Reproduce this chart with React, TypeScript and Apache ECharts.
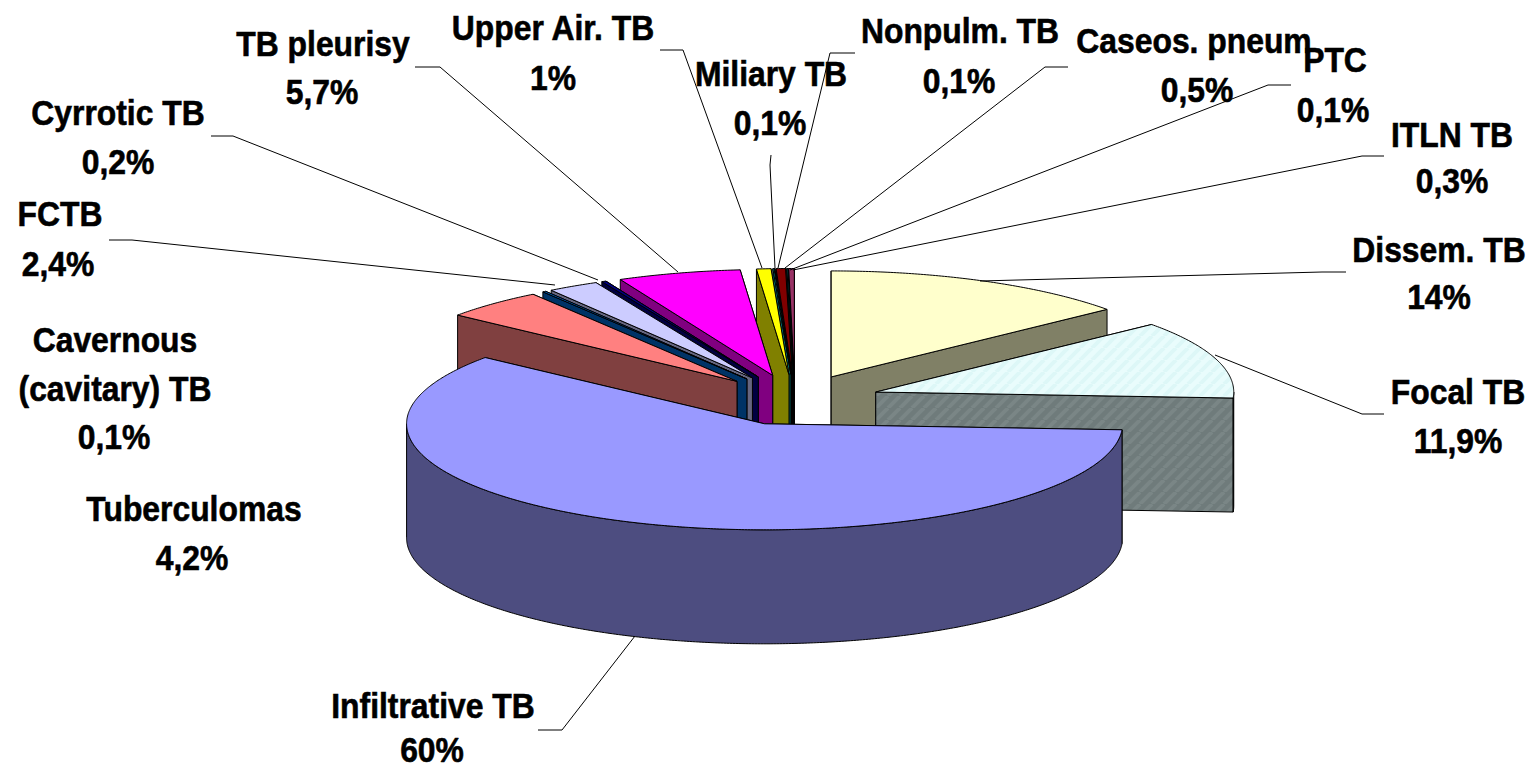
import React, { useEffect, useRef } from "react";
import * as echarts from "echarts";

const categories = ["Dissem. TB","Focal TB","Infiltrative TB","Tuberculomas","Cavernous (cavitary) TB","FCTB","Cyrrotic TB","TB pleurisy","Upper Air. TB","Miliary TB","Nonpulm. TB","Caseos. pneum","PTC","ITLN TB"];
const valueLabels = ["14%","11,9%","60%","4,2%","0,1%","2,4%","0,2%","5,7%","1%","0,1%","0,1%","0,5%","0,1%","0,3%"];
// slice shares as measured on the picture
const sliceShares = [14,11.9,59.85,4.6,0.15,2.3,0.2,5.55,0.65,0.05,0.03,0.42,0.05,0.25];
const sliceColors = ["#FFFFCC","#CCFFFF","#9999FF","#FF8080","#0066CC","#CCCCFF","#000080","#FF00FF","#FFFF00","#00FFFF","#800080","#800000","#008080","#993366"];
const paintOrder = [13,12,11,10,9,8,7,6,5,4,3,0,1,2];

// category text lines, then centre x of each line and centre y of each line
const labelLines: string[][] = [["Dissem. TB"],["Focal TB"],["Infiltrative TB"],["Tuberculomas"],["Cavernous","(cavitary) TB"],["FCTB"],["Cyrrotic TB"],["TB pleurisy"],["Upper Air. TB"],["Miliary TB"],["Nonpulm. TB"],["Caseos. pneum"],["PTC"],["ITLN TB"]];
const labelXs: number[][] = [[1439,1439],[1458,1458],[433,432],[194,192],[115,115,114],[60,58],[118,118],[323,322],[553,553],[771,770],[960,959],[1194,1197],[1335,1333],[1452,1452]];
const labelYs: number[][] = [[250,297],[392,441],[706,750],[509,558],[340,389,437],[214,264],[113,162],[44,92],[28,78],[74,123],[31,81],[41,90],[60,110],[135,181]];
const leaderLines: number[][][] = [
  [[980,281],[1322,272],[1346,272]],
  [[1215,355],[1362,414],[1384,414]],
  [[793,270],[1362,156],[1384,156]],
  [[790,270],[1268,85],[1291,85]],
  [[785,268],[1045,67],[1068,67]],
  [[778,268],[830,53],[855,53]],
  [[775,268],[770,165],[771,155]],
  [[762,268],[683,50],[660,50]],
  [[678,272],[440,67],[415,67]],
  [[598,280],[233,136],[211,136]],
  [[555,285],[132,240],[109,240]],
  [[635,636],[562,730],[538,730]],
];

const CX = 795, CY = 400, EX = 85, EY = 25.5, RX = 358, RY = 106, DEPTH = 114;
const FONT = 35, SQUEEZE = 0.91;

function darken(hex: string) {
  const n = parseInt(hex.slice(1), 16);
  const f = (v: number) => Math.round(v * 0.5);
  return `rgb(${f((n >> 16) & 255)},${f((n >> 8) & 255)},${f(n & 255)})`;
}

function stripePattern(a: string, b: string) {
  const size = 12;
  const c = document.createElement("canvas");
  c.width = size; c.height = size;
  const g = c.getContext("2d")!;
  g.fillStyle = a; g.fillRect(0, 0, size, size);
  g.strokeStyle = b; g.lineWidth = 4;
  for (let i = -size; i <= size * 2; i += size) {
    g.beginPath(); g.moveTo(i, size); g.lineTo(i + size, 0); g.stroke();
  }
  return { image: c, repeat: "repeat", imageWidth: size, imageHeight: size };
}

export default function App() {
  const ref = useRef<HTMLDivElement>(null);
  useEffect(() => {
    document.body.style.margin = "0";
    document.body.style.background = "#fff";
    const chart = echarts.init(ref.current!, undefined, { renderer: "svg" });
    const total = sliceShares.reduce((s, v) => s + v, 0);
    const angles: [number, number][] = [];
    let cum = 0;
    sliceShares.forEach((v) => {
      const a0 = (cum / total) * 360;
      cum += v;
      angles.push([a0, (cum / total) * 360]);
    });
    const pt = (ax: number, ay: number, deg: number, dy = 0) => {
      const r = (deg * Math.PI) / 180;
      return [ax + RX * Math.sin(r), ay - RY * Math.cos(r) + dy];
    };
    const arc = (ax: number, ay: number, d0: number, d1: number, dy = 0) => {
      const out: number[][] = [];
      const n = Math.max(1, Math.ceil((d1 - d0) / 0.5));
      for (let i = 0; i <= n; i++) out.push(pt(ax, ay, d0 + ((d1 - d0) * i) / n, dy));
      return out;
    };
    const focalTop = stripePattern("#E9FCFC", "#DDF7F7");
    const focalSide = stripePattern("#6F7B7B", "#7A8686");

    const renderItem = (params: any) => {
      const idx = paintOrder[params.dataIndex];
      const [a0, a1] = angles[idx];
      const mid = ((a0 + a1) / 2) * Math.PI / 180;
      const ax = CX + EX * Math.sin(mid);
      const ay = CY - EY * Math.cos(mid);
      const color = sliceColors[idx];
      const isFocal = idx === 1;
      const topFill: any = isFocal ? focalTop : color;
      const sideFill: any = isFocal ? focalSide : darken(color);
      const style = (fill: any) => ({ fill, stroke: "#000", lineWidth: 1, lineJoin: "round" });
      const quad = (deg: number) => {
        const p = pt(ax, ay, deg);
        return { type: "polygon", shape: { points: [[ax, ay], p, [p[0], p[1] + DEPTH], [ax, ay + DEPTH]] }, style: style(sideFill) };
      };
      const children: any[] = [];
      const onLeft = (a0 + a1) / 2 > 180;
      const walls = onLeft ? [a1, a0] : [a0, a1];
      walls.forEach((d) => children.push(quad(d)));
      const w0 = Math.max(a0, 90), w1 = Math.min(a1, 270);
      if (w1 > w0) {
        const topArc = arc(ax, ay, w0, w1);
        const lowArc = arc(ax, ay, w0, w1, DEPTH).reverse();
        children.push({ type: "polygon", shape: { points: [...topArc, ...lowArc] }, style: style(sideFill) });
      }
      children.push({ type: "polygon", shape: { points: [[ax, ay], ...arc(ax, ay, a0, a1)] }, style: style(topFill) });
      return { type: "group", children };
    };

    const graphics: any[] = [];
    leaderLines.forEach((points) => {
      graphics.push({ type: "polyline", silent: true, z: 5, shape: { points }, style: { stroke: "#000", lineWidth: 1, fill: "none" } });
    });
    labelLines.forEach((lines, k) => {
      [...lines, valueLabels[k]].forEach((t, i) => {
        graphics.push({
          type: "text", silent: true, z: 10, x: labelXs[k][i], y: labelYs[k][i], scaleX: SQUEEZE,
          style: { text: t, fontFamily: "Liberation Sans", fontWeight: "bold", fontSize: FONT, fill: "#000", stroke: "#000", lineWidth: 0.6, textAlign: "center", textVerticalAlign: "middle" },
        });
      });
    });

    chart.setOption({
      animation: false,
      backgroundColor: "#fff",
      series: [{
        type: "custom", coordinateSystem: "none", silent: true, clip: false,
        data: paintOrder.map((i) => ({ name: categories[i], value: sliceShares[i] })),
        renderItem,
      }],
      graphic: { elements: graphics },
    });
    return () => chart.dispose();
  }, []);
  return <div ref={ref} style={{ width: 1532, height: 768 }} />;
}
